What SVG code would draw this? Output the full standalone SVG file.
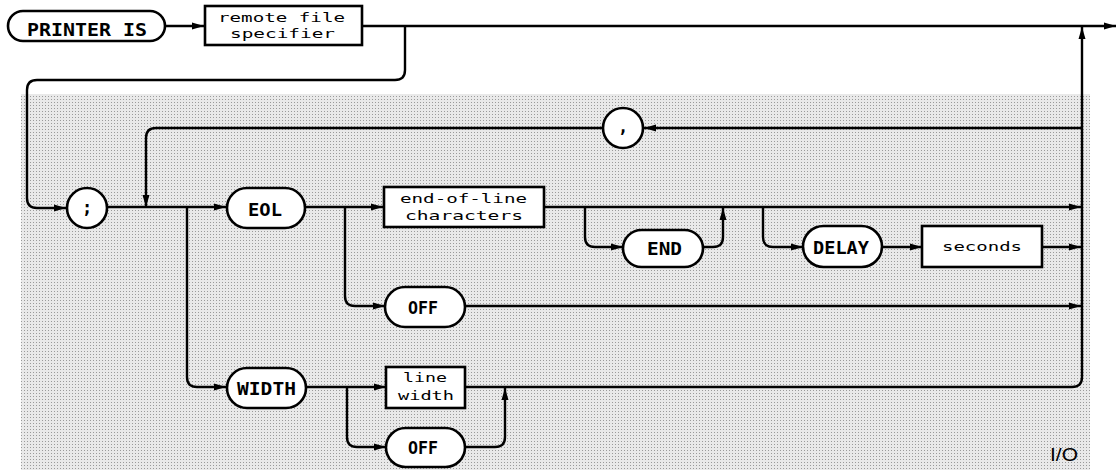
<svg xmlns="http://www.w3.org/2000/svg" width="1116" height="470" viewBox="0 0 1116 470">
<defs>
<pattern id="dots" width="3" height="3" patternUnits="userSpaceOnUse"><rect width="3" height="3" fill="#e9e9e9"/><rect width="1" height="1" fill="#9a9a9a"/></pattern>
<marker id="ah" viewBox="0 0 12 8" markerWidth="12" markerHeight="8" refX="12" refY="4" orient="auto" markerUnits="userSpaceOnUse"><path d="M0,0.5 L12,4 L0,7.5 z" fill="#000"/></marker>
</defs>
<style>
.ln{fill:none;stroke:#000;stroke-width:2.4}
.sh{fill:#fff;stroke:#000;stroke-width:2.6}
.kw{font-family:"DejaVu Sans Mono","Liberation Mono",monospace;font-weight:bold;font-size:17px;fill:#000}
.lit{font-family:"DejaVu Sans Mono","Liberation Mono",monospace;font-size:13px;fill:#000}
.ap{marker-end:url(#ah)}
</style>
<rect x="21" y="94" width="1069" height="376" fill="url(#dots)"/>
<g id="connectors">
<path class="ln ap" d="M165,26 H204"/>
<path class="ln ap" d="M362,26 H1116"/>
<path class="ln ap" d="M405,26 V70 Q405,80 395,80 H37 Q27,80 27,90 V198 Q27,208 37,208 H66"/>
<path class="ln ap" d="M107,207 H226"/>
<path class="ln ap" d="M1082,128 H644"/>
<path class="ln ap" d="M603,128 H156 Q146,128 146,138 V207"/>
<path class="ln ap" d="M187,207 V377 Q187,387 197,387 H226"/>
<path class="ln ap" d="M305,207 H383"/>
<path class="ln ap" d="M345,207 V296 Q345,306 355,306 H385"/>
<path class="ln ap" d="M465,306 H1081"/>
<path class="ln ap" d="M544,207 H1081"/>
<path class="ln ap" d="M585,207 V237 Q585,247 595,247 H623"/>
<path class="ln ap" d="M703,247 H713 Q723,247 723,237 V208"/>
<path class="ln ap" d="M763,207 V237 Q763,247 773,247 H803"/>
<path class="ln ap" d="M882,247 H922"/>
<path class="ln ap" d="M1042,247 H1081"/>
<path class="ln ap" d="M306,387 H386"/>
<path class="ln ap" d="M347,387 V437 Q347,447 357,447 H386"/>
<path class="ln ap" d="M465,447 H495 Q505,447 505,437 V388"/>
<path class="ln ap" d="M465,387 H1072 Q1082,387 1082,377 V27"/>
</g>
<g id="n-printer-is"><rect class="sh" x="8" y="11" width="157" height="30" rx="15"/><text class="kw" x="27" y="36" textLength="120" lengthAdjust="spacingAndGlyphs" font-size="15">PRINTER IS</text></g>
<g id="n-remote-file"><rect class="sh" x="205" y="6" width="157" height="39"/><text class="lit" x="218" y="22" textLength="127" lengthAdjust="spacingAndGlyphs">remote file</text><text class="lit" x="230" y="38" textLength="105" lengthAdjust="spacingAndGlyphs">specifier</text></g>
<g id="n-semicolon"><circle class="sh" cx="87" cy="208" r="20"/><text class="kw" x="87" y="214" text-anchor="middle">;</text></g>
<g id="n-comma"><circle class="sh" cx="623" cy="128" r="20"/><text class="kw" x="623" y="133" text-anchor="middle" font-size="14">,</text></g>
<g id="n-eol"><rect class="sh" x="227" y="188" width="78" height="40" rx="20"/><text class="kw" x="248" y="216" textLength="34" lengthAdjust="spacingAndGlyphs">EOL</text></g>
<g id="n-eol-chars"><rect class="sh" x="384" y="187" width="160" height="40"/><text class="lit" x="400" y="203" textLength="127" lengthAdjust="spacingAndGlyphs">end-of-line</text><text class="lit" x="405" y="220" textLength="118" lengthAdjust="spacingAndGlyphs">characters</text></g>
<g id="n-end"><rect class="sh" x="623" y="230" width="80" height="37" rx="18.5"/><text class="kw" x="647" y="255" textLength="35" lengthAdjust="spacingAndGlyphs">END</text></g>
<g id="n-delay"><rect class="sh" x="803" y="226" width="79" height="41" rx="20.5"/><text class="kw" x="813" y="254" textLength="56" lengthAdjust="spacingAndGlyphs">DELAY</text></g>
<g id="n-seconds"><rect class="sh" x="922" y="226" width="120" height="41"/><text class="lit" x="942" y="251" textLength="80" lengthAdjust="spacingAndGlyphs">seconds</text></g>
<g id="n-off1"><rect class="sh" x="385" y="287" width="80" height="40" rx="20"/><text class="kw" x="408" y="314" textLength="30" lengthAdjust="spacingAndGlyphs">OFF</text></g>
<g id="n-width"><rect class="sh" x="227" y="368" width="79" height="40" rx="20"/><text class="kw" x="237" y="395" textLength="59" lengthAdjust="spacingAndGlyphs">WIDTH</text></g>
<g id="n-line-width"><rect class="sh" x="386" y="367" width="79" height="41"/><text class="lit" x="403" y="382" textLength="44" lengthAdjust="spacingAndGlyphs">line</text><text class="lit" x="398" y="400" textLength="56" lengthAdjust="spacingAndGlyphs">width</text></g>
<g id="n-off2"><rect class="sh" x="386" y="428" width="79" height="39" rx="19.5"/><text class="kw" x="408" y="454" textLength="30" lengthAdjust="spacingAndGlyphs">OFF</text></g>
<text x="1050" y="461" font-family="Liberation Sans, sans-serif" font-size="18" textLength="28" lengthAdjust="spacingAndGlyphs" fill="#000">I/O</text>
</svg>
